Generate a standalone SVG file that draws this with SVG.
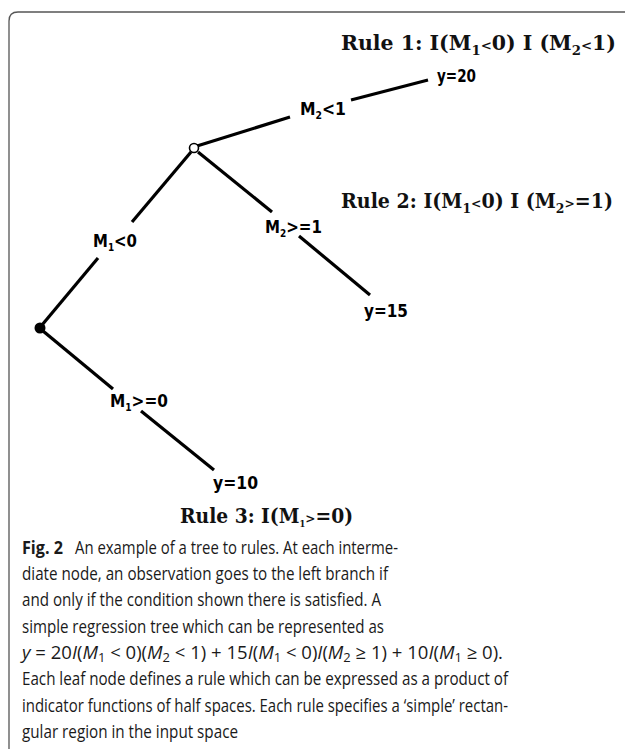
<svg xmlns="http://www.w3.org/2000/svg" width="627" height="751" viewBox="0 0 627 751">
<style>
.edge{stroke:#000;stroke-width:3.2;fill:none;stroke-linecap:butt}
.lbl{font-family:"Liberation Sans Narrow","DejaVu Sans Condensed","Liberation Sans",sans-serif;font-weight:bold;font-size:18.5px;fill:#000}
.sub{font-size:11px}
.rule{font-family:"DejaVu Serif","Liberation Serif",serif;font-weight:bold;font-size:20px;fill:#111}
.rsub{font-size:13px}
.cap{font-family:"Open Sans","Noto Sans","Liberation Sans",sans-serif;font-size:18.5px;fill:#1a1a1a}
.it{font-style:italic}
.frame{stroke:#555;stroke-width:1.3;fill:none}
</style>
<rect width="627" height="751" fill="#fff"/>
<path class="frame" d="M 9 749 V 21 Q 9 12 18 12 H 625"/>

<g id="connectors">
<line class="edge" x1="197" y1="146" x2="290" y2="117"/>
<line class="edge" x1="351" y1="100" x2="428" y2="80"/>
<line class="edge" x1="191" y1="152" x2="132" y2="222"/>
<line class="edge" x1="98" y1="258" x2="42" y2="325"/>
<line class="edge" x1="198" y1="152" x2="272" y2="212"/>
<line class="edge" x1="299" y1="236" x2="370" y2="295"/>
<line class="edge" x1="43" y1="331" x2="113" y2="389"/>
<line class="edge" x1="141" y1="411" x2="214" y2="470"/>
</g>

<g id="node-root"><circle cx="194" cy="148" r="4.5" fill="#fff" stroke="#000" stroke-width="1.6"/></g>
<g id="node-left"><circle cx="40" cy="328" r="5.5" fill="#000"/></g>

<g id="label-m2lt1"><text class="lbl" x="300" y="115" textLength="46" lengthAdjust="spacingAndGlyphs">M<tspan class="sub" dy="4">2</tspan><tspan dy="-4">&lt;1</tspan></text></g>
<g id="leaf-y20"><text class="lbl" x="437" y="82" textLength="39" lengthAdjust="spacingAndGlyphs">y=20</text></g>
<g id="label-m1lt0"><text class="lbl" x="93" y="247" textLength="44" lengthAdjust="spacingAndGlyphs">M<tspan class="sub" dy="4">1</tspan><tspan dy="-4">&lt;0</tspan></text></g>
<g id="label-m2ge1"><text class="lbl" x="265" y="233" textLength="57" lengthAdjust="spacingAndGlyphs">M<tspan class="sub" dy="4">2</tspan><tspan dy="-4">&gt;=1</tspan></text></g>
<g id="leaf-y15"><text class="lbl" x="364" y="317" textLength="44" lengthAdjust="spacingAndGlyphs">y=15</text></g>
<g id="label-m1ge0"><text class="lbl" x="110" y="407" textLength="58" lengthAdjust="spacingAndGlyphs">M<tspan class="sub" dy="4">1</tspan><tspan dy="-4">&gt;=0</tspan></text></g>
<g id="leaf-y10"><text class="lbl" x="213" y="489" textLength="45" lengthAdjust="spacingAndGlyphs">y=10</text></g>

<g id="rule1"><text class="rule" x="341" y="50" textLength="275" lengthAdjust="spacingAndGlyphs">Rule 1: I(M<tspan class="rsub" dy="5">1</tspan><tspan dy="-5" class="rsub">&lt;</tspan>0) I (M<tspan class="rsub" dy="5">2</tspan><tspan dy="-5" class="rsub">&lt;</tspan>1)</text></g>
<g id="rule2"><text class="rule" x="341" y="208" textLength="272" lengthAdjust="spacingAndGlyphs">Rule 2: I(M<tspan class="rsub" dy="5">1</tspan><tspan dy="-5" class="rsub">&lt;</tspan>0) I (M<tspan class="rsub" dy="5">2</tspan><tspan dy="-5" class="rsub">&gt;</tspan>=1)</text></g>
<g id="rule3"><text class="rule" x="180" y="523" textLength="173" lengthAdjust="spacingAndGlyphs">Rule 3: I(M<tspan class="rsub" dy="4" style="font-size:9px">1</tspan><tspan dy="-4" class="rsub">&gt;</tspan>=0)</text></g>

<g id="caption">
<text class="cap" x="22" y="554" font-weight="bold" textLength="41" lengthAdjust="spacingAndGlyphs">Fig. 2</text>
<text class="cap" x="75" y="554" textLength="323" lengthAdjust="spacingAndGlyphs">An example of a tree to rules. At each interme-</text>
<text class="cap" x="22" y="580" textLength="366" lengthAdjust="spacingAndGlyphs">diate node, an observation goes to the left branch if</text>
<text class="cap" x="22" y="606" textLength="359" lengthAdjust="spacingAndGlyphs">and only if the condition shown there is satisfied. A</text>
<text class="cap" x="22" y="633" textLength="362" lengthAdjust="spacingAndGlyphs">simple regression tree which can be represented as</text>
<text class="cap" x="22" y="659" textLength="481" lengthAdjust="spacingAndGlyphs"><tspan class="it">y</tspan> = 20<tspan class="it">I</tspan>(<tspan class="it">M</tspan><tspan font-size="13" dy="3">1</tspan><tspan dy="-3"> &lt; 0)(</tspan><tspan class="it">M</tspan><tspan font-size="13" dy="3">2</tspan><tspan dy="-3"> &lt; 1) + 15</tspan><tspan class="it">I</tspan>(<tspan class="it">M</tspan><tspan font-size="13" dy="3">1</tspan><tspan dy="-3"> &lt; 0)</tspan><tspan class="it">I</tspan>(<tspan class="it">M</tspan><tspan font-size="13" dy="3">2</tspan><tspan dy="-3"> ≥ 1) + 10</tspan><tspan class="it">I</tspan>(<tspan class="it">M</tspan><tspan font-size="13" dy="3">1</tspan><tspan dy="-3"> ≥ 0).</tspan></text>
<text class="cap" x="22" y="685" textLength="486" lengthAdjust="spacingAndGlyphs">Each leaf node defines a rule which can be expressed as a product of</text>
<text class="cap" x="22" y="712" textLength="486" lengthAdjust="spacingAndGlyphs">indicator functions of half spaces. Each rule specifies a ‘simple’ rectan-</text>
<text class="cap" x="22" y="738" textLength="216" lengthAdjust="spacingAndGlyphs">gular region in the input space</text>
</g>
</svg>
